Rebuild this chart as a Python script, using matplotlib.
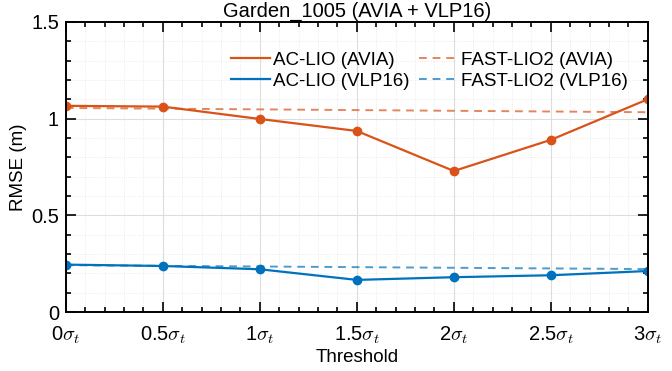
import matplotlib
matplotlib.use("Agg")
import matplotlib.pyplot as plt
from matplotlib.ticker import MultipleLocator

plt.rcParams['font.family'] = ['Liberation Sans', 'DejaVu Sans']
plt.rcParams['mathtext.fontset'] = 'cm'

# 数据
thresholds = [0, 0.5, 1, 1.5, 2, 2.5, 3]
tick_labels = [r'0$\sigma_t$', r'0.5$\sigma_t$', r'1$\sigma_t$', r'1.5$\sigma_t$',
               r'2$\sigma_t$', r'2.5$\sigma_t$', r'3$\sigma_t$']
ac_avia = [1.066, 1.062, 0.998, 0.936, 0.729, 0.890, 1.100]
ac_vlp = [0.245, 0.238, 0.221, 0.166, 0.180, 0.190, 0.212]
fast_x = [0, 3]
fast_avia = [1.055, 1.033]
fast_vlp = [0.242, 0.222]

ORANGE = "#D95319"
BLUE = "#0072BD"

fig = plt.figure(figsize=(6.72, 3.71), dpi=100)
ax = fig.add_axes([0.098, 0.159, 0.866, 0.782])

ax.plot(thresholds, ac_avia, color=ORANGE, lw=1.6, marker='o', ms=6, label="AC-LIO (AVIA)")
ax.plot(thresholds, ac_vlp, color=BLUE, lw=1.6, marker='o', ms=6, label="AC-LIO (VLP16)")
ax.plot(fast_x, fast_avia, color=ORANGE, lw=1.4, ls=(0, (4, 3)), alpha=0.7, label="FAST-LIO2 (AVIA)")
ax.plot(fast_x, fast_vlp, color=BLUE, lw=1.4, ls=(0, (4, 3)), alpha=0.7, label="FAST-LIO2 (VLP16)")

ax.set_xlim(0, 3)
ax.set_ylim(0, 1.5)
ax.set_xticks(thresholds)
ax.set_xticklabels(tick_labels)
ax.set_yticks([0, 0.5, 1, 1.5])
ax.set_yticklabels(['0', '0.5', '1', '1.5'])
ax.xaxis.set_minor_locator(MultipleLocator(0.1))
ax.yaxis.set_minor_locator(MultipleLocator(0.1))

ax.grid(which='major', color='#dddddd', lw=0.8)
ax.grid(which='minor', color='#e6e6e6', lw=0.6, ls=':')
ax.set_axisbelow(True)

ax.tick_params(which='both', direction='in', top=True, right=True, labelsize=14.5, width=1.2)
ax.tick_params(which='major', length=7, pad=5)
ax.tick_params(axis='x', which='major', pad=9)
ax.tick_params(which='minor', length=3.5)
for s in ax.spines.values():
    s.set_linewidth(1.4)

ax.set_xlabel("Threshold", fontsize=13.5, labelpad=2)
ax.set_ylabel("RMSE (m)", fontsize=13.5, labelpad=3)
ax.set_title("Garden_1005 (AVIA + VLP16)", fontsize=14.5, pad=4)

leg = ax.legend(ncol=2, loc='upper right', frameon=False, fontsize=13.5,
                handlelength=2.1, handletextpad=0.15, columnspacing=0.5,
                labelspacing=0.2, bbox_to_anchor=(0.995, 0.955))
for h in leg.legend_handles:
    h.set_marker('')

fig.savefig("out.png", dpi=100)
